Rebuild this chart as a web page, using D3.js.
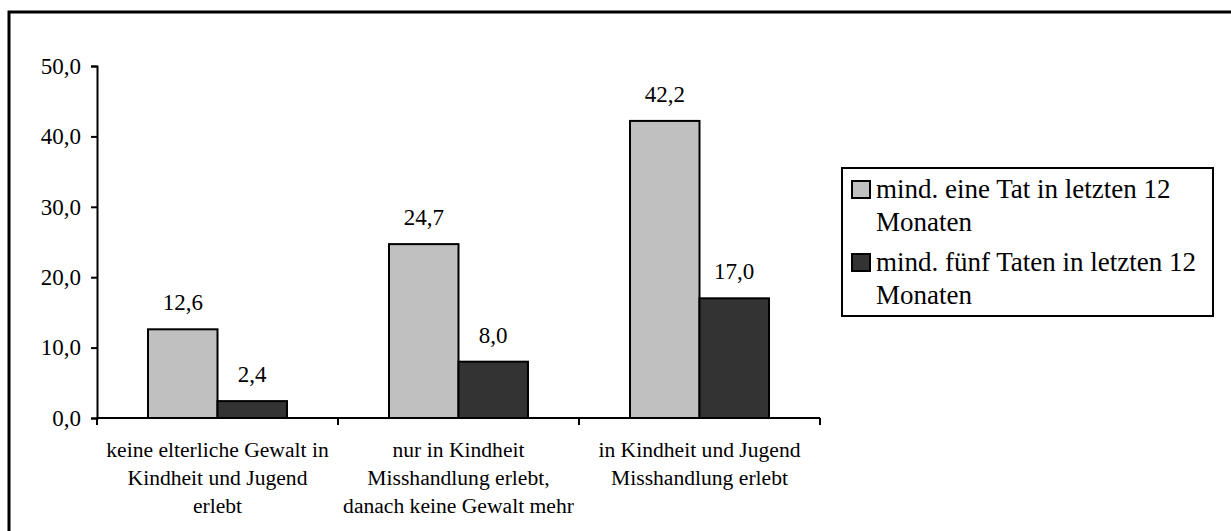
<!DOCTYPE html>
<html>
<head>
<meta charset="utf-8">
<script src="https://cdn.jsdelivr.net/npm/d3@7"></script>
<style>
  body { margin: 0; background: #fff; }
</style>
</head>
<body>
<svg id="chart" width="1231" height="531"></svg>
<script>
const categories = ['kat1', 'kat2', 'kat3'];
const categoryLabels = [
    ['keine elterliche Gewalt in', 'Kindheit und Jugend', 'erlebt'],
    ['nur in Kindheit', 'Misshandlung erlebt,', 'danach keine Gewalt mehr'],
    ['in Kindheit und Jugend', 'Misshandlung erlebt']
];
const seriesNames = ['eineTat', 'fuenfTaten'];
const seriesLabels = [
    ['mind. eine Tat in letzten 12', 'Monaten'],
    ['mind. fünf Taten in letzten 12', 'Monaten']
];
const eineTat = [12.6, 24.7, 42.2];
const fuenfTaten = [2.4, 8.0, 17.0];
const yTicks = [0, 10, 20, 30, 40, 50];
const colors = ['#c0c0c0', '#333333'];

const FONT = "'Liberation Serif', 'DejaVu Serif', 'Noto Serif', Tinos, Times, serif";

const svg = d3.select('#chart');
const fmt = v => d3.format('.1f')(v).replace('.', ',');

// outer frame
svg.append('rect')
    .attr('x', 9).attr('y', 12)
    .attr('width', 1240).attr('height', 540)
    .attr('fill', 'none').attr('stroke', '#000').attr('stroke-width', 3);

let x0 = d3.scaleBand().domain(categories).range([97, 820]);
let x1 = d3.scaleBand().domain(seriesNames).range([0, x0.bandwidth()]).paddingOuter(0.734);
let y = d3.scaleLinear().domain([0, 50]).range([418, 66]);

// y axis
let yAxis = svg.append('g')
    .attr('transform', 'translate(97,0)')
    .call(d3.axisLeft(y).tickValues(yTicks).tickFormat(fmt).tickSize(6).tickPadding(10));
yAxis.attr('font-family', null).attr('font-size', null);
yAxis.selectAll('text').style('font-family', FONT).style('font-size', '23px').attr('fill', '#000');
yAxis.select('.domain').attr('stroke-width', 2);
yAxis.selectAll('.tick line').attr('stroke-width', 2);

// bars
let rows = categories.map((c, i) => ({ c, vals: [eineTat[i], fuenfTaten[i]] }));
let groups = svg.selectAll('g.cat').data(rows).join('g')
    .attr('class', 'cat')
    .attr('transform', d => `translate(${x0(d.c)},0)`);

groups.selectAll('rect').data(d => d.vals.map((v, j) => ({ s: seriesNames[j], v, j }))).join('rect')
    .attr('x', d => x1(d.s))
    .attr('y', d => y(d.v))
    .attr('width', x1.bandwidth())
    .attr('height', d => y(0) - y(d.v))
    .attr('fill', d => colors[d.j])
    .attr('stroke', '#000').attr('stroke-width', 2);

groups.selectAll('text.val').data(d => d.vals.map((v, j) => ({ s: seriesNames[j], v }))).join('text')
    .attr('class', 'val')
    .attr('x', d => x1(d.s) + x1.bandwidth() / 2)
    .attr('y', d => y(d.v) - 19)
    .attr('text-anchor', 'middle')
    .style('font-family', FONT)
    .style('font-size', '23px')
    .text(d => fmt(d.v));

// x axis
svg.append('line')
    .attr('x1', 96).attr('x2', 820).attr('y1', y(0)).attr('y2', y(0))
    .attr('stroke', '#000').attr('stroke-width', 2);
let bounds = categories.map(c => x0(c)).concat([x0.range()[1]]);
svg.selectAll('line.xtick').data(bounds).join('line')
    .attr('class', 'xtick')
    .attr('x1', d => d).attr('x2', d => d)
    .attr('y1', y(0)).attr('y2', y(0) + 7)
    .attr('stroke', '#000').attr('stroke-width', 2);

svg.selectAll('text.cat').data(categories).join('text')
    .attr('class', 'cat')
    .attr('text-anchor', 'middle')
    .style('font-family', FONT)
    .style('font-size', '21.6px')
    .each(function (c, i) {
        d3.select(this).selectAll('tspan').data(categoryLabels[i]).join('tspan')
            .attr('x', x0(c) + x0.bandwidth() / 2)
            .attr('y', (d, k) => 457 + k * 28)
            .text(d => d);
    });

// legend
svg.append('rect')
    .attr('x', 842).attr('y', 168)
    .attr('width', 371).attr('height', 148)
    .attr('fill', '#fff').attr('stroke', '#000').attr('stroke-width', 2);

let legendTop = [198, 271];
seriesLabels.forEach((lines, i) => {
    svg.append('rect')
        .attr('x', 852).attr('y', legendTop[i] - 17)
        .attr('width', 18).attr('height', 17)
        .attr('fill', colors[i]).attr('stroke', '#000').attr('stroke-width', 2);
    svg.append('text')
        .style('font-family', FONT)
        .style('font-size', '27px')
        .selectAll('tspan').data(lines).join('tspan')
        .attr('x', 876)
        .attr('y', (d, k) => legendTop[i] + k * 33)
        .text(d => d);
});
</script>
</body>
</html>
